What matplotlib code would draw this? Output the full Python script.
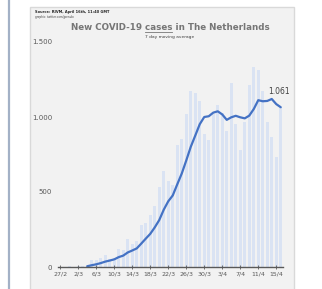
import matplotlib
matplotlib.use('Agg')
import matplotlib.pyplot as plt
import matplotlib.ticker as mticker
from matplotlib.patches import Rectangle
from matplotlib.lines import Line2D
import pandas as pd

# ── data (RIVM daily reported cases, 27/2 – 16/4) ───────────────────────────
DATES = [f'{d.day}/{d.month}' for d in pd.date_range('2020-02-27', '2020-04-16')]

NEW_CASES = [1, 1, 5, 3, 8, 6, 14, 44, 46, 60, 77, 56, 61, 121,
             111, 190, 155, 176, 278, 292, 346, 409, 534, 637, 573, 545,
             811, 852, 1019, 1172, 1159, 1104, 884, 845, 1019, 1083, 1026,
             904, 1224, 952, 777, 969, 1213, 1335, 1316, 1174, 964, 868,
             734, 1061]

# 7 day moving average, first value on 4/3
MA_DATES = DATES[6:]
MA_7DAY = [5, 12, 18, 26, 36, 43, 51, 66, 76, 97,
           110, 124, 156, 189, 221, 264, 313, 382, 438, 477,
           551, 623, 710, 801, 876, 952, 1000, 1005, 1029, 1038,
           1017, 981, 998, 1008, 998, 991, 1009, 1053, 1112, 1105,
           1107, 1120, 1086, 1065]

Y_TICKS = [0, 500, 1000, 1500]
LAST_LABEL = '1.061'

W, H = 322, 289
GREY = '#595959'

fig = plt.figure(figsize=(W / 100, H / 100), dpi=100)
fig.patch.set_facecolor('white')

# ── page decorations: side bar + grey chart panel ───────────────────────────
fig.add_artist(Line2D([8.5 / W, 8.5 / W], [0, 1], transform=fig.transFigure,
                      color='#a3b1c6', lw=1.6, zorder=-20))
fig.add_artist(Rectangle((30 / W, -0.05), (294 - 30) / W, 1.05 - 7 / H,
                         transform=fig.transFigure, facecolor='#f2f2f2',
                         edgecolor='#d9d9d9', lw=1.0, zorder=-10))

# ── chart ───────────────────────────────────────────────────────────────────
ax = fig.add_axes([58 / W, 1 - 267 / H, 225 / W, (267 - 42) / H])
ax.set_facecolor('none')

x_all = list(range(len(DATES)))
x_ma = [DATES.index(d) for d in MA_DATES]

ax.bar(x_all, NEW_CASES, width=0.6, color='#dae3f3', zorder=1)
ax.plot(x_ma, MA_7DAY, color='#4472c4', lw=1.6, solid_capstyle='round',
        solid_joinstyle='round', zorder=3)

ax.set_xlim(-0.5, len(DATES) - 0.5)
ax.set_ylim(0, 1500)
ax.set_yticks(Y_TICKS)
ax.yaxis.set_major_formatter(mticker.FuncFormatter(
    lambda v, _: f'{v:,.0f}'.replace(',', '.')))
ax.set_xticks(x_all[::4])
ax.set_xticklabels(DATES[::4])

for s in ('top', 'right', 'left'):
    ax.spines[s].set_visible(False)
ax.spines['bottom'].set_color(GREY)
ax.spines['bottom'].set_linewidth(1.0)
ax.spines['bottom'].set_zorder(4)

ax.tick_params(axis='y', length=0, labelsize=5, labelcolor=GREY, pad=4.3)
ax.tick_params(axis='x', direction='inout', length=3, width=0.6, color=GREY,
               labelsize=4.5, labelcolor=GREY, pad=2)

ax.annotate(LAST_LABEL, xy=(x_ma[-1], MA_7DAY[-1]), xytext=(-1, 11.5),
            textcoords='offset points', ha='center', va='center',
            fontsize=5.5, color='#404040', annotation_clip=False)

# ── titles / source ─────────────────────────────────────────────────────────
tprops = dict(fontsize=6.3, color='#767676', weight='bold')
title = fig.text(170 / W, 1 - 28 / H, 'New COVID-19 cases in The Netherlands',
                 ha='center', va='center', **tprops)
fig.text(170 / W, 1 - 37 / H, '7 day moving average', ha='center', va='center',
         fontsize=3.2, color='#404040')
fig.text(35 / W, 1 - 12 / H, 'Source: RIVM, April 16th, 11:40 GMT',
         ha='left', va='center', fontsize=2.6, weight='bold', color='#262626')
fig.text(35 / W, 1 - 17 / H, 'graphic: twitter.com/jpenulo',
         ha='left', va='center', fontsize=2.0, color='#404040')

# underline the word "cases"
fig.canvas.draw()
r = fig.canvas.get_renderer()
bb = title.get_window_extent(r)
tmp = fig.text(0, 0, 'New COVID-19 cases', **tprops)
w_upto = tmp.get_window_extent(r).width
tmp.set_text('cases')
w_word = tmp.get_window_extent(r).width
tmp.remove()
x1 = bb.x0 + w_upto
x0 = x1 - w_word
uy = bb.y0 + 0.6
fig.add_artist(Line2D([x0 / W, x1 / W], [uy / H, uy / H],
                      transform=fig.transFigure, color='#767676', lw=0.6))

fig.savefig('out.png', dpi=100)
